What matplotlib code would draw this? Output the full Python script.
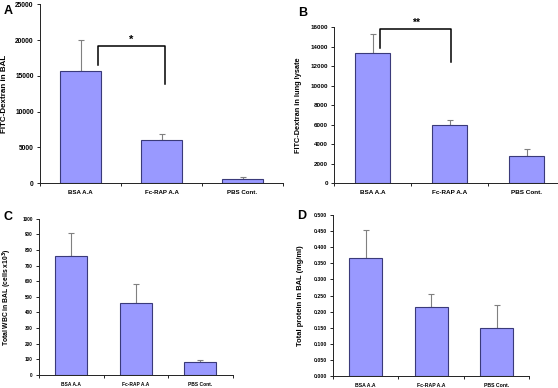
import matplotlib
matplotlib.use("Agg")
import matplotlib.pyplot as plt
import numpy as np

plt.rcParams['font.family'] = ['Liberation Sans', 'DejaVu Sans']
plt.rcParams['font.weight'] = 'bold'

categories = ["BSA A.A", "Fc-RAP A.A", "PBS Cont."]

a_values = [15700, 6000, 550]
a_errors = [4300, 900, 300]
b_values = [13400, 5950, 2820]
b_errors = [1850, 500, 720]
c_values = [762, 462, 86]
c_errors = [144, 119, 8]
d_values = [0.365, 0.214, 0.150]
d_errors = [0.088, 0.040, 0.070]

BAR = '#9999ff'
EDGE = '#3a3a7a'
ERR = '#808080'

fig = plt.figure(figsize=(5.58, 3.88), dpi=100)

def panel(rect, values, errors, ylim, yticks, fmt, ylabel, tick_fs, lab_fs, x_fs, width=0.5):
    ax = fig.add_axes(rect)
    x = np.arange(len(values))
    ax.bar(x, values, width=width, color=BAR, edgecolor=EDGE, linewidth=0.8, zorder=2)
    ax.errorbar(x, values, yerr=[np.zeros(len(errors)), errors], fmt='none',
                ecolor=ERR, elinewidth=0.8, capsize=2.5, capthick=0.8, zorder=1)
    ax.set_xlim(-0.5, len(values) - 0.5)
    ax.set_ylim(*ylim)
    ax.set_yticks(yticks)
    ax.set_yticklabels([fmt(v) for v in yticks], fontsize=tick_fs, fontweight='bold')
    ax.set_xticks(x)
    ax.set_xticklabels(categories, fontsize=x_fs, fontweight='bold')
    ax.set_xticks(np.arange(len(values) + 1) - 0.5, minor=True)
    ax.tick_params(axis='x', which='major', length=0, pad=5)
    ax.tick_params(axis='x', which='minor', length=2.5, width=0.6, direction='out')
    ax.tick_params(axis='y', length=2.5, width=0.6, direction='out', pad=2)
    for s in ['top', 'right']:
        ax.spines[s].set_visible(False)
    for s in ['left', 'bottom']:
        ax.spines[s].set_linewidth(0.7)
        ax.spines[s].set_color('#222222')
    ax.set_ylabel(ylabel, fontsize=lab_fs, fontweight='bold')
    return ax

axA = panel([0.0717, 0.528, 0.4355, 0.461], a_values, a_errors, (0, 25000),
            np.arange(0, 25001, 5000), lambda v: f"{int(v)}", "FITC-Dextran in BAL",
            4.8, 5.8, 4.4)
axA.yaxis.set_label_coords(-0.13, 0.5)
axA.plot([0.21, 0.21, 1.04, 1.04], [16500, 19200, 19200, 13900], color='black', lw=1.1, zorder=3)
axA.text(0.625, 19300, "*", ha='center', va='bottom', fontsize=8, fontweight='bold')

axB = panel([0.5986, 0.528, 0.414, 0.402], b_values, b_errors, (0, 16000),
            np.arange(0, 16001, 2000), lambda v: f"{int(v)}", "FITC-Dextran in lung lysate",
            4.5, 5.3, 4.6, width=0.45)
axB.yaxis.set_label_coords(-0.14, 0.5)
axB.plot([0.1, 0.1, 1.02, 1.02], [13900, 15850, 15850, 12400], color='black', lw=1.1,
         zorder=3, clip_on=False)
axB.text(0.56, 15950, "**", ha='center', va='bottom', fontsize=7.5, fontweight='bold')

axC = panel([0.0699, 0.0335, 0.347, 0.403], c_values, c_errors, (0, 1000),
            np.arange(0, 1001, 100), lambda v: f"{int(v)}", "Total WBC in BAL (cells x10$^3$)",
            3.3, 4.9, 3.5)
axC.yaxis.set_label_coords(-0.13, 0.5)

axD = panel([0.5968, 0.0309, 0.352, 0.415], d_values, d_errors, (0, 0.5),
            np.round(np.arange(0, 0.5001, 0.05), 3), lambda v: f"{v:.3f}", "Total protein in BAL (mg/ml)",
            3.7, 5.4, 3.7)
axD.yaxis.set_label_coords(-0.15, 0.5)

fig.text(0.006, 0.988, "A", fontsize=9, fontweight='bold', va='top', ha='left')
fig.text(0.535, 0.982, "B", fontsize=9, fontweight='bold', va='top', ha='left')
fig.text(0.006, 0.455, "C", fontsize=9, fontweight='bold', va='top', ha='left')
fig.text(0.533, 0.458, "D", fontsize=9, fontweight='bold', va='top', ha='left')

fig.savefig("out.png", dpi=100)
